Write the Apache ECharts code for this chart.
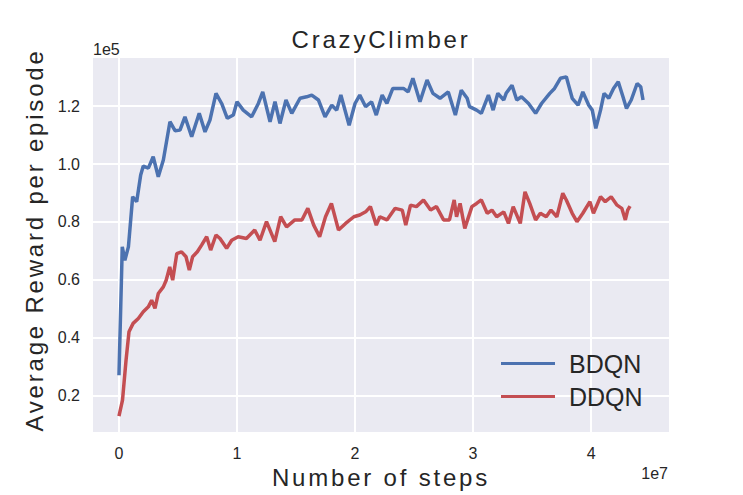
<!DOCTYPE html>
<html>
<head>
<meta charset="utf-8">
<script src="https://cdn.jsdelivr.net/npm/echarts@6/dist/echarts.min.js"></script>
<style>
  html, body { margin: 0; padding: 0; background: #fff; }
  #chart { width: 743px; height: 495px; }
</style>
</head>
<body>
<div id="chart"></div>
<script>
// steps are in units of 1e7, rewards in units of 1e5 (offset labels drawn like matplotlib)
const xTicks = [0, 1, 2, 3, 4];
const yTicks = [0.2, 0.4, 0.6, 0.8, 1.0, 1.2];

const bdqnSteps = [0, 0.028, 0.05, 0.08, 0.116, 0.15, 0.184, 0.206, 0.249, 0.29, 0.333, 0.376, 0.432, 0.475, 0.517,
  0.559, 0.616, 0.68, 0.729, 0.771, 0.822, 0.87, 0.918, 0.969, 1.0, 1.053, 1.124, 1.181, 1.218, 1.28, 1.322, 1.364,
  1.415, 1.464, 1.534, 1.59, 1.633, 1.69, 1.746, 1.803, 1.845, 1.88, 1.95, 2.0, 2.04, 2.09, 2.14, 2.18, 2.23, 2.27,
  2.32, 2.41, 2.45, 2.49, 2.55, 2.61, 2.66, 2.72, 2.79, 2.85, 2.9, 2.95, 2.97, 3.03, 3.07, 3.13, 3.17, 3.21, 3.26,
  3.28, 3.33, 3.37, 3.41, 3.47, 3.53, 3.58, 3.65, 3.69, 3.74, 3.79, 3.84, 3.89, 3.93, 3.98, 4.01, 4.04, 4.08, 4.11,
  4.15, 4.19, 4.23, 4.27, 4.3, 4.34, 4.39, 4.42, 4.44];
const bdqnReward = [0.271, 0.714, 0.668, 0.714, 0.887, 0.87, 0.962, 0.993, 0.986, 1.025, 0.956, 1.014, 1.146, 1.115, 1.117,
  1.163, 1.094, 1.175, 1.111, 1.152, 1.244, 1.209, 1.158, 1.169, 1.215, 1.186, 1.163, 1.209, 1.249, 1.146, 1.215, 1.14,
  1.221, 1.175, 1.227, 1.232, 1.238, 1.221, 1.163, 1.203, 1.186, 1.238, 1.134, 1.209, 1.238, 1.198, 1.215, 1.169, 1.238, 1.209,
  1.261, 1.261, 1.249, 1.296, 1.215, 1.29, 1.244, 1.227, 1.249, 1.169, 1.255, 1.227, 1.198, 1.186, 1.175, 1.238, 1.186, 1.244, 1.221,
  1.244, 1.272, 1.221, 1.232, 1.209, 1.175, 1.209, 1.244, 1.261, 1.296, 1.301, 1.227, 1.203, 1.249, 1.203, 1.186, 1.123, 1.186, 1.244,
  1.227, 1.261, 1.284, 1.232, 1.192, 1.221, 1.278, 1.267, 1.221];

const ddqnSteps = [0, 0.03, 0.06, 0.085, 0.12, 0.164, 0.206, 0.249, 0.277, 0.305, 0.333, 0.376, 0.4, 0.43, 0.455, 0.49,
  0.53, 0.568, 0.596, 0.624, 0.664, 0.7, 0.743, 0.777, 0.822, 0.856, 0.912, 0.955, 1.01, 1.08, 1.15, 1.195, 1.25, 1.32,
  1.37, 1.42, 1.49, 1.55, 1.6, 1.65, 1.7, 1.75, 1.8, 1.86, 1.92, 1.99, 2.04, 2.09, 2.13, 2.18, 2.21, 2.27, 2.34, 2.4,
  2.43, 2.47, 2.52, 2.58, 2.64, 2.69, 2.75, 2.8, 2.84, 2.86, 2.89, 2.93, 2.99, 3.03, 3.07, 3.12, 3.16, 3.2, 3.26, 3.3,
  3.34, 3.4, 3.44, 3.48, 3.53, 3.57, 3.62, 3.66, 3.71, 3.76, 3.79, 3.84, 3.88, 3.93, 3.99, 4.02, 4.08, 4.12, 4.17, 4.22,
  4.26, 4.29, 4.31, 4.33];
const ddqnReward = [0.13, 0.185, 0.323, 0.421, 0.45, 0.467, 0.49, 0.507, 0.53, 0.502, 0.553, 0.576, 0.599, 0.645, 0.599, 0.691,
  0.697, 0.68, 0.634, 0.68, 0.697, 0.72, 0.749, 0.703, 0.755, 0.743, 0.709, 0.737, 0.749, 0.743, 0.772, 0.737, 0.801, 0.732,
  0.818, 0.783, 0.807, 0.807, 0.847, 0.789, 0.749, 0.818, 0.864, 0.772, 0.795, 0.818, 0.824, 0.835, 0.853, 0.789, 0.818, 0.807, 0.847, 0.841,
  0.789, 0.858, 0.853, 0.876, 0.841, 0.853, 0.807, 0.807, 0.876, 0.818, 0.864, 0.778, 0.853, 0.864, 0.876, 0.83, 0.841, 0.818, 0.835, 0.795,
  0.853, 0.795, 0.904, 0.864, 0.807, 0.83, 0.818, 0.841, 0.818, 0.899, 0.876, 0.83, 0.801, 0.83, 0.87, 0.83, 0.887, 0.87, 0.887, 0.858,
  0.847, 0.807, 0.841, 0.855];

const titleText = 'CrazyClimber';
const xName = 'Number of steps';
const yName = 'Average Reward per episode';

const textColor = '#262626';
const font = 'Liberation Sans, Arial, sans-serif';

const pairs = (xs, ys) => xs.map((x, i) => [x, ys[i]]);

const chart = echarts.init(document.getElementById('chart'), null, { renderer: 'svg' });

const option = {
  animation: false,
  backgroundColor: '#ffffff',
  textStyle: { fontFamily: font, color: textColor },
  title: {
    text: titleText,
    left: 381,
    top: 27,
    padding: 0,
    textAlign: 'center',
    textStyle: { fontSize: 24, fontWeight: 'normal', color: textColor, fontFamily: font }
  },
  grid: {
    left: 93, top: 58, width: 576, height: 374,
    show: true, backgroundColor: '#EAEAF2', borderWidth: 0
  },
  xAxis: {
    type: 'value',
    min: -0.22, max: 4.66,
    name: xName,
    nameLocation: 'middle',
    nameGap: 33,
    nameTextStyle: { fontSize: 24, color: textColor, fontFamily: font },
    axisLine: { show: false },
    axisTick: { show: false, customValues: xTicks },
    axisLabel: { customValues: xTicks, fontSize: 16, color: textColor, margin: 13, fontFamily: font },
    splitLine: { show: true, lineStyle: { color: '#ffffff', width: 2 } }
  },
  yAxis: {
    type: 'value',
    min: 0.075, max: 1.366,
    name: yName,
    nameLocation: 'middle',
    nameGap: 46,
    nameTextStyle: { fontSize: 24, color: textColor, fontFamily: font, padding: [0, 0, 0, 10] },
    axisLine: { show: false },
    axisTick: { show: false, customValues: yTicks },
    axisLabel: {
      customValues: yTicks, fontSize: 16, color: textColor, margin: 13, fontFamily: font,
      formatter: v => v.toFixed(1)
    },
    splitLine: { show: true, lineStyle: { color: '#ffffff', width: 2 } }
  },
  legend: {
    orient: 'vertical',
    left: 496,
    top: 346,
    itemWidth: 54,
    itemHeight: 3,
    itemGap: 8,
    icon: 'rect',
    textStyle: { fontSize: 25, lineHeight: 25, color: textColor, fontFamily: font, padding: [0, 0, 0, 9] },
    data: ['BDQN', 'DDQN']
  },
  graphic: [
    { type: 'text', left: 93, top: 41, style: { text: '1e5', fontSize: 16, fill: textColor, font: '16px ' + font } },
    { type: 'text', right: 75, top: 465, style: { text: '1e7', fontSize: 16, fill: textColor, font: '16px ' + font } }
  ],
  series: [
    {
      name: 'BDQN', type: 'line', showSymbol: false, symbol: 'none',
      lineStyle: { color: '#4C72B0', width: 3.5 }, itemStyle: { color: '#4C72B0' },
      data: pairs(bdqnSteps, bdqnReward)
    },
    {
      name: 'DDQN', type: 'line', showSymbol: false, symbol: 'none',
      lineStyle: { color: '#C44E52', width: 3.5 }, itemStyle: { color: '#C44E52' },
      data: pairs(ddqnSteps, ddqnReward)
    }
  ]
};

chart.setOption(option);

// matplotlib output here has wide letter spacing on the title and axis names
const spaced = [titleText, xName, yName];
function spaceOut () {
  document.querySelectorAll('#chart text').forEach(t => {
    if (spaced.includes(t.textContent)) t.setAttribute('letter-spacing', '2.8');
  });
}
chart.on('finished', spaceOut);
spaceOut();
</script>
</body>
</html>
